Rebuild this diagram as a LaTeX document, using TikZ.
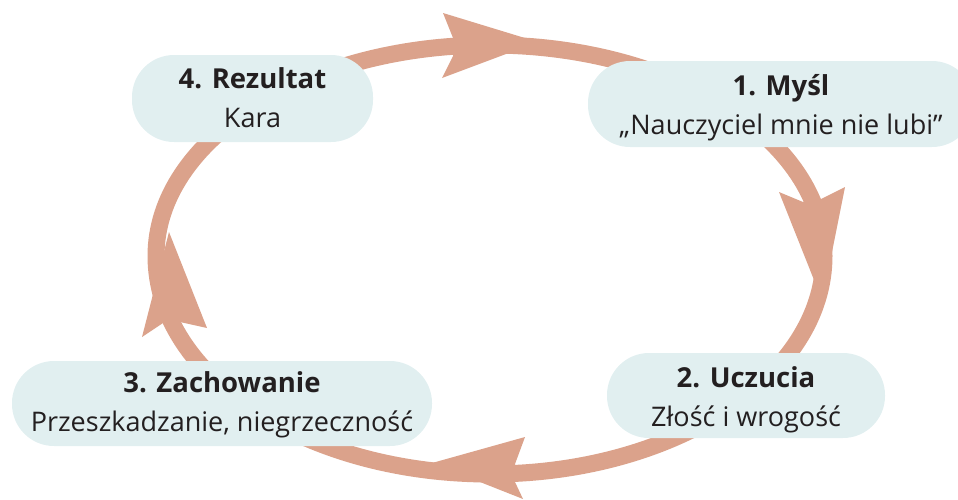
\documentclass[tikz,border=0pt]{standalone}
\usepackage{fontspec}
\setmainfont{Open Sans}
\definecolor{ringcol}{HTML}{DBA28B}
\definecolor{boxfill}{HTML}{E1EFF0}
\definecolor{ink}{HTML}{231F20}
\begin{document}
\begin{tikzpicture}[x=1pt,y=-1pt,
  ringline/.style={draw=ringcol, line width=17pt},
  headfill/.style={fill=ringcol, draw=none},
  cbox/.style={fill=boxfill, draw=none, rounded corners=42pt, inner sep=0pt},
  ttl/.style={anchor=base, text=ink, inner sep=0pt, font=\fontsize{27.5}{30}\selectfont\bfseries},
  sub/.style={anchor=base, text=ink, inner sep=0pt, font=\fontsize{27}{30}\selectfont}]
\clip (0,0) rectangle (958,499);
% ring
\coordinate (rR) at (824,256);
\coordinate (rL) at (156,256);
\draw[ringline] (rR) arc[start angle=0, end angle=180, x radius=334pt, y radius=211pt]
  arc[start angle=180, end angle=360, x radius=334pt, y radius=218pt] -- cycle;
% arrowheads
\fill[headfill] (538,42) -- (443,13) -- (453,38) -- (453,56) -- (442,78) -- cycle;
\fill[headfill] (818,290) -- (779,192) -- (803,202) -- (821,199) -- (845,187) -- (832,252) -- cycle;
\fill[headfill] (432,463) -- (525,437) -- (515,464) -- (515,482) -- (523,499) -- cycle;
\fill[headfill] (169,232) -- (207,328) -- (180,322) -- (163,323) -- (142,337) -- cycle;
% boxes
\node[cbox, minimum width=386pt, minimum height=86pt] (b1) at (781,104) {};
\node[cbox, minimum width=278pt, minimum height=85pt] (b2) at (746,395.5) {};
\node[cbox, minimum width=420pt, minimum height=85pt] (b3) at (222,403.5) {};
\node[cbox, minimum width=241pt, minimum height=87pt] (b4) at (252.5,98.5) {};
% texts
\node[ttl] (t1a) at (781,95) {1. Myśl};
\node[sub] (t1b) at (781,134) {„Nauczyciel mnie nie lubi”};
\node[ttl] (t2a) at (746,387) {2. Uczucia};
\node[sub] (t2b) at (746,426) {Złość i wrogość};
\node[ttl] (t3a) at (222,392) {3. Zachowanie};
\node[sub] (t3b) at (222,431) {Przeszkadzanie, niegrzeczność};
\node[ttl] (t4a) at (252.5,88) {4. Rezultat};
\node[sub] (t4b) at (252.5,127) {Kara};
\end{tikzpicture}
\end{document}
